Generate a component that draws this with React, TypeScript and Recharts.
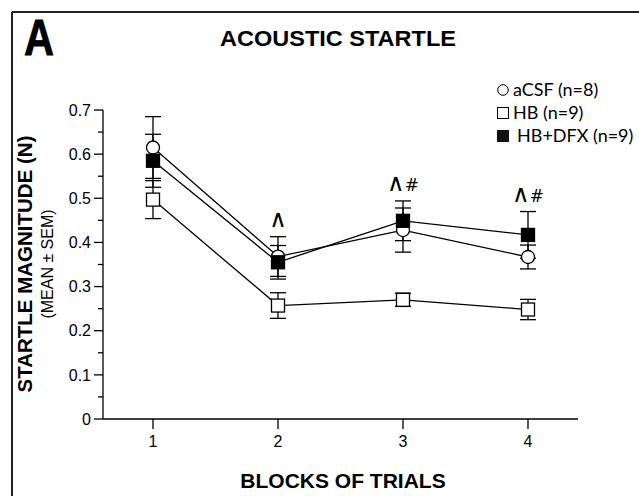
import React from 'react';
import { ComposedChart, Line, XAxis, YAxis, ErrorBar, LabelList, Customized } from 'recharts';

const blocks = [1, 2, 3, 4];
const aCSFMean = [0.615, 0.368, 0.428, 0.367];
const aCSFSem = [0.07, 0.045, 0.05, 0.027];
const hbMean = [0.497, 0.257, 0.27, 0.248];
const hbSem = [0.043, 0.029, 0.015, 0.023];
const dfxMean = [0.585, 0.355, 0.449, 0.417];
const dfxSem = [0.06, 0.038, 0.045, 0.053];
const annotations = ['', '\u2227', '\u2227#', '\u2227#'];
const yTicks = [0, 0.05, 0.1, 0.15, 0.2, 0.25, 0.3, 0.35, 0.4, 0.45, 0.5, 0.55, 0.6, 0.65, 0.7];
const xTicks = [1, 2, 3, 4];
const legendItems = [
  { label: 'aCSF (n=8)', shape: 'circle' },
  { label: 'HB (n=9)', shape: 'square' },
  { label: 'HB+DFX (n=9)', shape: 'filled' },
];

const data = blocks.map((b, i) => ({
  block: b,
  acsf: aCSFMean[i],
  acsfErr: aCSFSem[i],
  hb: hbMean[i],
  hbErr: hbSem[i],
  dfx: dfxMean[i],
  dfxErr: dfxSem[i],
  top: Math.max(aCSFMean[i] + aCSFSem[i], hbMean[i] + hbSem[i], dfxMean[i] + dfxSem[i]),
  annot: annotations[i],
}));

const AX = 'Liberation Sans, Arial, sans-serif';

const YTick = (props: any) => {
  const { x, y, payload } = props;
  const v = payload.value as number;
  const major = Math.abs(v * 10 - Math.round(v * 10)) < 1e-6;
  return (
    <g>
      <line x1={x - (major ? 9 : 5)} x2={x} y1={y} y2={y} stroke="#000" strokeWidth={1.3} />
      {major && (
        <text x={x - 12} y={y} dy="0.36em" textAnchor="end" fontSize={16} fontFamily={AX} fill="#000">
          {v === 0 ? '0' : v.toFixed(1)}
        </text>
      )}
    </g>
  );
};

const CircleDot = (p: any) =>
  p.cx == null ? <g key={p.index} /> : <circle key={p.index} cx={p.cx} cy={p.cy} r={6.5} fill="#fff" stroke="#000" strokeWidth={1.3} />;
const SquareDot = (p: any) =>
  p.cx == null ? <g key={p.index} /> : <rect key={p.index} x={p.cx - 6.5} y={p.cy - 6.5} width={13} height={13} fill="#fff" stroke="#000" strokeWidth={1.3} />;
const FilledDot = (p: any) =>
  p.cx == null ? <g key={p.index} /> : <rect key={p.index} x={p.cx - 6.5} y={p.cy - 6.5} width={13} height={13} fill="#000" stroke="#000" strokeWidth={1.3} />;

const AnnotLabel = (p: any) => {
  const { x, y, value } = p;
  if (!value) return null;
  const s = String(value);
  return (
    <text x={x} y={y - 10} textAnchor="middle" fontFamily="DejaVu Sans, sans-serif" fill="#000">
      <tspan fontSize={24}>{s.slice(0, 1)}</tspan>
      {s.length > 1 && <tspan fontSize={17}>{s.slice(1)}</tspan>}
    </text>
  );
};

const Decor = () => (
  <g>
    <line x1={12} y1={12} x2={639} y2={12} stroke="#222" strokeWidth={2} />
    <line x1={12} y1={12} x2={12} y2={496} stroke="#222" strokeWidth={2} />
    <text x={24} y={55} fontSize={50} fontWeight="bold" fontFamily={AX} textLength={30} lengthAdjust="spacingAndGlyphs" fill="#000" stroke="#000" strokeWidth={0.8}>
      A
    </text>
    <text x={338} y={46} textAnchor="middle" fontSize={21.5} fontWeight="bold" fontFamily={AX} textLength={236} lengthAdjust="spacingAndGlyphs" fill="#000">
      ACOUSTIC STARTLE
    </text>
    <text x={343} y={488} textAnchor="middle" fontSize={21} fontWeight="bold" fontFamily={AX} fill="#000">
      BLOCKS OF TRIALS
    </text>
    <text transform="translate(32,264) rotate(-90)" textAnchor="middle" fontSize={20.5} fontWeight="bold" fontFamily={AX} fill="#000">
      STARTLE MAGNITUDE (N)
    </text>
    <text transform="translate(53,264) rotate(-90)" textAnchor="middle" fontSize={16} fontFamily={AX} fill="#000">
      (MEAN ± SEM)
    </text>
    {legendItems.map((it, i) => {
      const cy = 90 + i * 23;
      return (
        <g key={it.label}>
          {it.shape === 'circle' && <circle cx={503} cy={cy} r={5.3} fill="#fff" stroke="#000" strokeWidth={1} />}
          {it.shape === 'square' && <rect x={497.5} y={cy - 5.5} width={11} height={11} fill="#fff" stroke="#000" strokeWidth={1} />}
          {it.shape === 'filled' && <rect x={497.5} y={cy - 5.5} width={11} height={11} fill="#111" stroke="#111" strokeWidth={1} />}
          <text x={it.shape === 'filled' ? 517 : 513} y={cy} dy="0.35em" fontSize={18} fontFamily="Lato, sans-serif" fill="#000">
            {it.label}
          </text>
        </g>
      );
    })}
  </g>
);

export default function App() {
  return (
    <div style={{ position: 'absolute', left: 0, top: 0, width: 639, height: 496, background: '#fff' }}>
      <ComposedChart width={639} height={496} data={data} margin={{ top: 110, right: 61, bottom: 37, left: 0 }}>
        <XAxis
          dataKey="block"
          type="number"
          domain={[0.6, 4.4]}
          ticks={xTicks}
          height={40}
          tickSize={10}
          tickMargin={7}
          axisLine={{ stroke: '#000', strokeWidth: 1.3 }}
          tickLine={{ stroke: '#000', strokeWidth: 1.3 }}
          tick={{ fontSize: 16, fontFamily: AX, fill: '#000' }}
          allowDataOverflow
        />
        <YAxis
          type="number"
          domain={[0, 0.7]}
          ticks={yTicks}
          width={103}
          tickSize={0}
          tickMargin={0}
          interval={0}
          axisLine={{ stroke: '#000', strokeWidth: 1.3 }}
          tickLine={false}
          tick={<YTick />}
          allowDataOverflow
        />
        <Line dataKey="top" stroke="none" dot={false} activeDot={false} isAnimationActive={false} legendType="none">
          <LabelList dataKey="annot" content={<AnnotLabel />} />
        </Line>
        <Line dataKey="hb" stroke="#000" strokeWidth={1.3} dot={<SquareDot />} activeDot={false} isAnimationActive={false}>
          <ErrorBar dataKey="hbErr" width={8} stroke="#000" strokeWidth={1.3} direction="y" />
        </Line>
        <Line dataKey="acsf" stroke="#000" strokeWidth={1.3} dot={<CircleDot />} activeDot={false} isAnimationActive={false}>
          <ErrorBar dataKey="acsfErr" width={8} stroke="#000" strokeWidth={1.3} direction="y" />
        </Line>
        <Line dataKey="dfx" stroke="#000" strokeWidth={1.3} dot={<FilledDot />} activeDot={false} isAnimationActive={false}>
          <ErrorBar dataKey="dfxErr" width={8} stroke="#000" strokeWidth={1.3} direction="y" />
        </Line>
        <Customized component={Decor} />
      </ComposedChart>
    </div>
  );
}
